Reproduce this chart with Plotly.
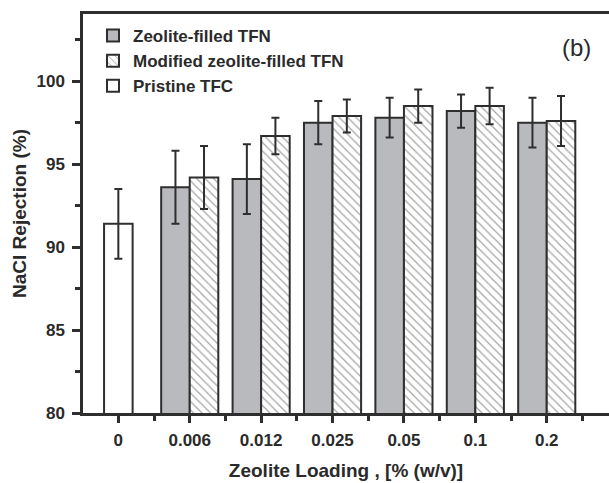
import plotly.graph_objects as go

categories = ["0", "0.006", "0.012", "0.025", "0.05", "0.1", "0.2"]

pristine_vals = [91.4]
pristine_err = [2.1]

tfn_vals = [93.6, 94.1, 97.5, 97.8, 98.2, 97.5]
tfn_err = [2.2, 2.1, 1.3, 1.2, 1.0, 1.5]

mod_vals = [94.2, 96.7, 97.9, 98.5, 98.5, 97.6]
mod_err = [1.9, 1.1, 1.0, 1.0, 1.1, 1.5]

x_pristine = [0]
x_tfn = list(range(1, len(categories)))

AX = "#2e2e2e"
FONT = "Liberation Sans, Arial, sans-serif"
W = 0.4

err_style = dict(type="data", visible=True, color=AX, thickness=2, width=4)

fig = go.Figure()
fig.add_trace(go.Bar(
    name="Zeolite-filled TFN", x=x_tfn, y=tfn_vals, width=W, offset=-W,
    marker=dict(color="#b9babd", line=dict(color=AX, width=2)),
    error_y=dict(array=tfn_err, **err_style),
))
fig.add_trace(go.Bar(
    name="Modified zeolite-filled TFN", x=x_tfn, y=mod_vals, width=W, offset=0,
    marker=dict(color="white", line=dict(color=AX, width=2),
                pattern=dict(shape="\\", size=6, solidity=0.2, fgcolor="#4a4a4a", bgcolor="white")),
    error_y=dict(array=mod_err, **err_style),
))
fig.add_trace(go.Bar(
    name="Pristine TFC", x=x_pristine, y=pristine_vals, width=W, offset=-W / 2,
    marker=dict(color="white", line=dict(color=AX, width=2)),
    error_y=dict(array=pristine_err, **err_style),
))

fig.update_layout(
    width=609, height=483,
    margin=dict(l=83, r=0, t=14, b=70, autoexpand=False),
    paper_bgcolor="white", plot_bgcolor="white",
    barmode="overlay",
    font=dict(family=FONT, color="#2a2a2a"),
    legend=dict(x=0.019, y=0.99, xanchor="left", yanchor="top",
                bgcolor="rgba(0,0,0,0)", font=dict(size=17, family=FONT, weight="bold"),
                itemwidth=30, tracegroupgap=0),
    showlegend=True,
)
fig.update_xaxes(
    range=[-0.495, 6.872], automargin=False,
    tickmode="array", tickvals=list(range(len(categories))), ticktext=categories,
    ticks="outside", ticklen=7, tickwidth=2.5, tickcolor=AX,
    showline=True, linewidth=2.5, linecolor=AX, mirror=True,
    showgrid=False, zeroline=False,
    tickfont=dict(size=17, family=FONT, weight="bold"),
    ticklabelstandoff=3,
    minor=dict(tickmode="linear", tick0=0.5, dtick=1, ticks="outside", ticklen=5,
               tickwidth=2.5, tickcolor=AX, showgrid=False),
    title=dict(text="Zeolite Loading , [% (w/v)]", standoff=15,
               font=dict(size=19, family=FONT, weight="bold")),
)
fig.update_yaxes(
    range=[80, 104.05], automargin=False,
    tickmode="array", tickvals=[80, 85, 90, 95, 100],
    ticks="outside", ticklen=8, tickwidth=2.5, tickcolor=AX,
    showline=True, linewidth=2.5, linecolor=AX, mirror=False,
    showgrid=False, zeroline=False,
    tickfont=dict(size=17, family=FONT, weight="bold"),
    ticklabelstandoff=4,
    minor=dict(tickmode="linear", tick0=82.5, dtick=5, ticks="outside", ticklen=5,
               tickwidth=2.5, tickcolor=AX, showgrid=False),
    title=dict(text="NaCl Rejection (%)", standoff=5,
               font=dict(size=19, family=FONT, weight="bold")),
)
fig.add_annotation(text="(b)", xref="paper", yref="paper", x=0.939, y=0.916,
                   xanchor="center", yanchor="middle", showarrow=False,
                   font=dict(size=24, family=FONT, color="#2a2a2a"))

fig.write_html("out.html", config={"displayModeBar": False},
               post_script="document.body.style.margin='0px';document.body.style.overflow='hidden';")
